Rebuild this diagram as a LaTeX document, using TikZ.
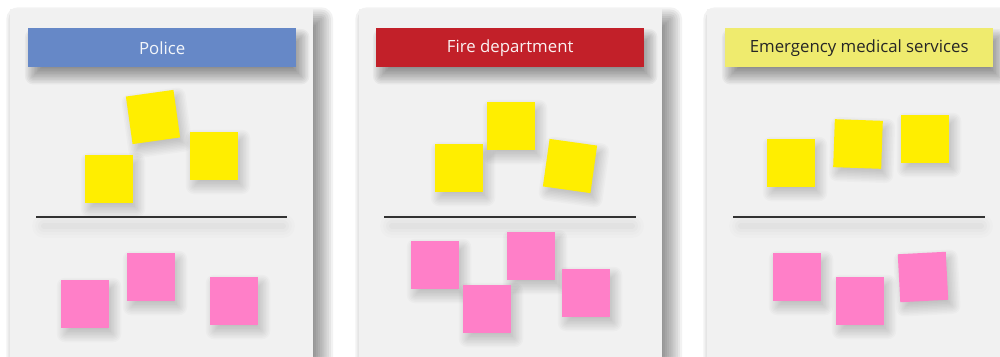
\documentclass[tikz,border=0pt]{standalone}
\usepackage{fontspec}
\setmainfont{Open Sans}
\definecolor{panelbg}{HTML}{F1F1F1}
\definecolor{policeblue}{HTML}{6688C7}
\definecolor{firered}{HTML}{C22029}
\definecolor{emsyellow}{HTML}{EFEB6E}
\definecolor{stickyyellow}{HTML}{FFEE00}
\definecolor{stickypink}{HTML}{FF7FC8}
\definecolor{divider}{HTML}{333333}
\pgfdeclarelayer{pshadow}
\pgfdeclarelayer{panels}
\pgfdeclarelayer{oshadow}
\pgfsetlayers{pshadow,panels,oshadow,main}
% soft (blurred) shadow of a rectangular node
% #1 node, #2 rotation, #3 half width, #4 half height, #5 dx, #6 dy, #7 blur radius, #8 opacity per layer
\newcommand\softshadowof[8]{%
  \begin{scope}[shift={(#1.center)}, xshift=#5pt, yshift=#6pt, rotate=#2]
  \foreach \k in {1,...,12}{%
    \pgfmathsetmacro\e{-#7+2*#7*(\k-0.5)/12}%
    \pgfmathsetmacro\rc{max(\e,0.01)}%
    \fill[black, opacity=#8, rounded corners=\rc pt] (-#3-\e, -#4-\e) rectangle (#3+\e, #4+\e);
  }%
  \end{scope}%
}
\tikzset{
  panel/.style={fill=panelbg, draw=none, minimum width=303pt, minimum height=360pt, anchor=north west, inner sep=0pt},
  header/.style={draw=none, minimum width=268pt, minimum height=39pt, anchor=north west, inner sep=0pt,
    font=\fontsize{16.8}{19}\selectfont},
  sticky/.style={draw=none, minimum size=48pt, inner sep=0pt},
  ysticky/.style={sticky, fill=stickyyellow},
  psticky/.style={sticky, fill=stickypink},
  divline/.style={draw=divider, line width=1.8pt},
  divshadow/.style={draw=black, line cap=round}
}
\begin{document}
\begin{tikzpicture}[x=1pt,y=1pt]
\useasboundingbox (0,-356) rectangle (1000,0);
\clip (0,-356) rectangle (1000,0);
\begin{pgfonlayer}{pshadow}
\fill[white] (0,-356) rectangle (1000,0);
\end{pgfonlayer}
% panels
\begin{pgfonlayer}{panels}
\node[panel] (p1) at (10,-9) {};
\node[panel] (p2) at (359,-9) {};
\node[panel] (p3) at (707,-9) {};
\end{pgfonlayer}
\begin{pgfonlayer}{pshadow}
\foreach \p in {p1,p2,p3}{ \softshadowof{\p}{0}{151.5}{180}{8}{-10}{13}{0.05} }
\end{pgfonlayer}
% headers
\node[header, fill=policeblue, text=white!92!policeblue] (h1) at (28,-28) {Police};
\node[header, fill=firered, text=white!94!firered] (h2) at (376,-28) {Fire department};
\node[header, fill=emsyellow, text=black!85] (h3) at (725,-28) {Emergency medical services};
% divider lines with soft shadows
\foreach \a/\b/\n in {36/287/1, 384/636/2, 733/985/3}{
  \coordinate (l\n a) at (\a,-217);
  \coordinate (l\n b) at (\b,-217);
  \coordinate (s\n a) at (\a+8,-226);
  \coordinate (s\n b) at (\b-4,-226);
  \begin{pgfonlayer}{oshadow}
  \foreach \w/\o in {24/0.01,18/0.012,12/0.015,6/0.02}{
    \draw[divshadow, line width=\w pt, opacity=\o] (s\n a) -- (s\n b);
  }
  \end{pgfonlayer}
  \draw[divline] (l\n a) -- (l\n b);
}
% Police stickies
\node[ysticky, rotate=8] (y11) at (153,-117) {};
\node[ysticky] (y12) at (214,-156) {};
\node[ysticky] (y13) at (109,-179) {};
\node[psticky] (p11) at (85,-304) {};
\node[psticky] (p12) at (151,-277) {};
\node[psticky] (p13) at (234,-301) {};
% Fire department stickies
\node[ysticky] (y21) at (511,-126) {};
\node[ysticky] (y22) at (459,-168) {};
\node[ysticky, rotate=-8] (y23) at (570,-166) {};
\node[psticky] (p21) at (435,-265) {};
\node[psticky] (p22) at (487,-309) {};
\node[psticky] (p23) at (531,-256) {};
\node[psticky] (p24) at (586,-293) {};
% EMS stickies
\node[ysticky] (y31) at (791,-163) {};
\node[ysticky, rotate=-2] (y32) at (858,-144) {};
\node[ysticky] (y33) at (925,-139) {};
\node[psticky] (p31) at (797,-277) {};
\node[psticky] (p32) at (860,-301) {};
\node[psticky, rotate=3] (p33) at (923,-277) {};
% shadows of headers and stickies
\begin{pgfonlayer}{oshadow}
\foreach \h in {h1,h2,h3}{ \softshadowof{\h}{0}{134}{19.5}{5}{-9}{9}{0.04} }
\foreach \s/\r in {y11/8,y12/0,y13/0,p11/0,p12/0,p13/0,y21/0,y22/0,y23/-8,p21/0,p22/0,p23/0,p24/0,y31/0,y32/-2,y33/0,p31/0,p32/0,p33/3}{
  \softshadowof{\s}{\r}{24}{24}{4}{-6}{9}{0.02}
}
\end{pgfonlayer}
\end{tikzpicture}
\end{document}
